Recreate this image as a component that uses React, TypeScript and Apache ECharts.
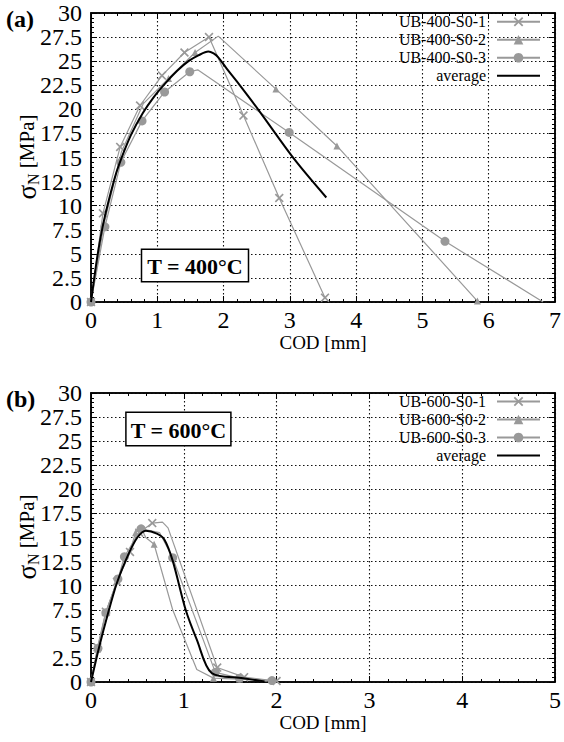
import React, { useEffect, useRef } from "react";
import * as echarts from "echarts";

// ---------- Panel (a): T = 400°C ----------
const xTicks400 = { min: 0, max: 7, interval: 1 };
const yTicks = { min: 0, max: 30, interval: 2.5 };

const cod400_1 = [0, 0.18, 0.44, 0.74, 1.07, 1.41, 1.78, 2.3, 2.84, 3.53];
const sig400_1 = [0, 9.2, 16.1, 20.4, 23.5, 25.9, 27.5, 19.35, 10.8, 0.45];
const mrk400_1 = [1, 1, 1, 1, 1, 1, 1, 1, 1, 1];

const cod400_2 = [0, 0.2, 0.46, 0.79, 1.17, 1.57, 1.92, 2.79, 3.71, 5.83];
const sig400_2 = [0, 8.2, 15.6, 20.6, 23.2, 25.9, 27.6, 22.1, 16.2, 0.1];
const mrk400_2 = [1, 1, 0, 0, 1, 1, 0, 1, 1, 1];

const cod400_3 = [0, 0.21, 0.45, 0.77, 1.11, 1.49, 1.61, 2.99, 5.34, 6.82];
const sig400_3 = [0, 7.8, 14.5, 18.8, 21.8, 23.9, 24.1, 17.6, 6.3, 0];
const mrk400_3 = [1, 1, 1, 1, 1, 1, 0, 1, 1, 0];

const cod400_avg = [0, 0.1, 0.2, 0.35, 0.43, 0.6, 0.78, 0.95, 1.12, 1.3, 1.47, 1.62, 1.77, 1.85, 1.92, 2.05, 2.2, 2.52, 3.07, 3.55];
const sig400_avg = [0, 4.9, 8.6, 12.7, 14.4, 17.3, 19.6, 21.3, 22.7, 24.0, 25.0, 25.6, 26.0, 25.8, 25.4, 24.2, 22.9, 20.0, 14.8, 10.85];

// ---------- Panel (b): T = 600°C ----------
const xTicks600 = { min: 0, max: 5, interval: 1 };

const cod600_1 = [0, 0.07, 0.16, 0.28, 0.42, 0.52, 0.66, 0.77, 0.83, 1.36, 1.65, 2.0];
const sig600_1 = [0, 3.6, 7.3, 10.4, 13.5, 15.5, 16.5, 16.6, 16.0, 1.5, 0.5, 0.1];
const mrk600_1 = [1, 1, 1, 1, 1, 1, 1, 0, 0, 1, 1, 1];

const cod600_2 = [0, 0.07, 0.16, 0.28, 0.41, 0.48, 0.54, 0.59, 0.68, 0.88, 1.14, 1.32, 1.6, 1.9];
const sig600_2 = [0, 3.4, 7.2, 10.5, 13.2, 15.5, 16.0, 15.0, 14.3, 7.5, 1.3, 0.4, 0.3, 0.1];
const mrk600_2 = [1, 1, 1, 1, 0, 1, 0, 0, 1, 0, 0, 1, 1, 0];

const cod600_3 = [0, 0.075, 0.16, 0.29, 0.36, 0.54, 0.74, 0.88, 1.34, 1.6, 1.95];
const sig600_3 = [0, 3.5, 7.2, 10.7, 13.0, 15.9, 15.5, 12.9, 1.0, 0.4, 0.15];
const mrk600_3 = [1, 1, 1, 1, 1, 1, 0, 1, 1, 1, 1];

const cod600_avg = [0, 0.09, 0.18, 0.28, 0.41, 0.5, 0.59, 0.71, 0.79, 0.88, 1.02, 1.14, 1.3, 1.64, 1.87];
const sig600_avg = [0, 3.7, 7.0, 10.3, 13.4, 15.0, 15.7, 15.4, 14.8, 12.6, 7.5, 4.4, 0.93, 0.4, 0.05];

const names400 = ["UB-400-S0-1", "UB-400-S0-2", "UB-400-S0-3", "average"];
const names600 = ["UB-600-S0-1", "UB-600-S0-2", "UB-600-S0-3", "average"];

const GRAY = "#999999";
const FONT = "Liberation Serif, DejaVu Serif, serif";
const X_SYMBOL =
  "path://M0,1.3L1.3,0L5,3.7L8.7,0L10,1.3L6.3,5L10,8.7L8.7,10L5,6.3L1.3,10L0,8.7L3.7,5Z";

function pts(xs: number[], ys: number[], ms?: number[]) {
  return xs.map((x, i) =>
    ms && !ms[i] ? { value: [x, ys[i]], symbol: "none" } : { value: [x, ys[i]] }
  );
}

function graySeries(name: string, idx: number, data: any[], symbol: string, size: number) {
  return {
    name,
    type: "line",
    xAxisIndex: idx,
    yAxisIndex: idx,
    data,
    symbol,
    symbolSize: size,
    lineStyle: { color: GRAY, width: 1.2 },
    itemStyle: { color: GRAY },
    z: 2,
  };
}

function avgSeries(idx: number, data: any[]) {
  return {
    name: "average",
    type: "line",
    xAxisIndex: idx,
    yAxisIndex: idx,
    data,
    symbol: "none",
    smooth: 0.3,
    lineStyle: { color: "#000", width: 2 },
    itemStyle: { color: "#000" },
    z: 3,
  };
}

const tickCommon = {
  axisLine: { show: true, onZero: false, lineStyle: { color: "#000", width: 1.5 } },
  axisTick: { show: true, inside: true, length: 6, lineStyle: { color: "#000", width: 1 } },
  minorTick: { show: true, splitNumber: 5, length: 3, lineStyle: { color: "#000", width: 1 } },
};
const gridLine = {
  show: true,
  lineStyle: { color: "#111", width: 1.1, type: [1.5, 2.5] },
};
const tickFont = { color: "#000", fontSize: 24, fontFamily: FONT };

function tickLabel(margin: number) {
  return {
    show: true,
    margin,
    ...tickFont,
  };
}

function mainX(gridIndex: number, t: any, gap: number) {
  return {
    type: "value",
    gridIndex,
    position: "bottom",
    ...t,
    ...tickCommon,
    splitLine: gridLine,
    axisLabel: tickLabel(6),
    name: "COD [mm]",
    nameLocation: "middle",
    nameGap: gap,
    nameTextStyle: { color: "#000", fontSize: 19, fontFamily: FONT },
  };
}
function mirrorX(gridIndex: number, t: any) {
  return {
    type: "value",
    gridIndex,
    position: "top",
    ...t,
    ...tickCommon,
    splitLine: { show: false },
    axisLabel: { show: false },
  };
}
function mainY(gridIndex: number) {
  return {
    type: "value",
    gridIndex,
    position: "left",
    ...yTicks,
    ...tickCommon,
    splitLine: gridLine,
    axisLabel: tickLabel(9),
  };
}
function mirrorY(gridIndex: number) {
  return {
    type: "value",
    gridIndex,
    position: "right",
    ...yTicks,
    ...tickCommon,
    splitLine: { show: false },
    axisLabel: { show: false },
  };
}

function legendFor(names: string[], top: number) {
  return {
    data: names.map((n, i) =>
      i === 3 ? { name: n, itemStyle: { opacity: 0 } } : { name: n }
    ),
    orient: "vertical",
    right: 23,
    top,
    align: "right",
    padding: 0,
    itemGap: 2,
    itemWidth: 43,
    itemHeight: 12,
    selectedMode: false,
    textStyle: { color: "#000", fontSize: 16, fontFamily: FONT, padding: [0, 6, 0, 0] },
  };
}

function yTitle(cy: number) {
  return {
    type: "text",
    x: 27,
    y: cy,
    rotation: Math.PI / 2,
    style: {
      text: "{s|σ}{n|N}{t| [MPa]}",
      align: "center",
      verticalAlign: "middle",
      fill: "#000",
      fontFamily: FONT,
      rich: {
        s: { fontSize: 27, fontFamily: FONT, lineHeight: 28, verticalAlign: "middle", fill: "#000" },
        n: { fontSize: 16, fontFamily: FONT, lineHeight: 16, verticalAlign: "bottom", fill: "#000" },
        t: { fontSize: 21, fontFamily: FONT, lineHeight: 28, verticalAlign: "middle", fill: "#000" },
      },
    },
  };
}

function tempBox(cx: number, cy: number, w: number, h: number, text: string) {
  return [
    {
      type: "rect",
      shape: { x: cx - w / 2, y: cy - h / 2, width: w, height: h },
      style: { fill: "#fff", stroke: "#000", lineWidth: 1.5 },
      z: 10,
    },
    {
      type: "text",
      x: cx,
      y: cy + 1,
      style: {
        text,
        fontSize: 22,
        fontWeight: "bold",
        fontFamily: FONT,
        fill: "#000",
        align: "center",
        verticalAlign: "middle",
      },
      z: 11,
    },
  ];
}

export default function App() {
  const ref = useRef<HTMLDivElement>(null);
  useEffect(() => {
    if (!ref.current) return;
    const chart = echarts.init(ref.current, null, { renderer: "svg" });
    chart.setOption({
      animation: false,
      backgroundColor: "#fff",
      textStyle: { fontFamily: FONT },
      grid: [
        { left: 91, top: 13, width: 469, height: 289, show: true, borderColor: "#000", borderWidth: 1.5, backgroundColor: "transparent" },
        { left: 91, top: 393, width: 469, height: 289, show: true, borderColor: "#000", borderWidth: 1.5, backgroundColor: "transparent" },
      ],
      xAxis: [mainX(0, xTicks400, 27), mirrorX(0, xTicks400), mainX(1, xTicks600, 30), mirrorX(1, xTicks600)],
      yAxis: [mainY(0), mirrorY(0), mainY(1), mirrorY(1)],
      legend: [legendFor(names400, 13.75), legendFor(names600, 393.5)],
      series: [
        graySeries(names400[0], 0, pts(cod400_1, sig400_1, mrk400_1), X_SYMBOL, 9),
        graySeries(names400[1], 0, pts(cod400_2, sig400_2, mrk400_2), "triangle", 7),
        graySeries(names400[2], 0, pts(cod400_3, sig400_3, mrk400_3), "circle", 9),
        avgSeries(0, pts(cod400_avg, sig400_avg)),
        graySeries(names600[0], 2, pts(cod600_1, sig600_1, mrk600_1), X_SYMBOL, 9),
        graySeries(names600[1], 2, pts(cod600_2, sig600_2, mrk600_2), "triangle", 7),
        graySeries(names600[2], 2, pts(cod600_3, sig600_3, mrk600_3), "circle", 9),
        avgSeries(2, pts(cod600_avg, sig600_avg)),
      ],
      graphic: [
        { type: "text", left: 6, top: 7, style: { text: "(a)", fontSize: 24, fontWeight: "bold", fontFamily: FONT, fill: "#000" } },
        { type: "text", left: 6, top: 387, style: { text: "(b)", fontSize: 24, fontWeight: "bold", fontFamily: FONT, fill: "#000" } },
        yTitle(157),
        yTitle(537),
        ...tempBox(195, 265.5, 107, 32.5, "T = 400°C"),
        ...tempBox(178.4, 429, 105, 33.5, "T = 600°C"),
      ],
    });
    return () => chart.dispose();
  }, []);
  return (
    <div
      ref={ref}
      style={{ position: "absolute", left: 0, top: 0, width: 564, height: 742 }}
    />
  );
}
